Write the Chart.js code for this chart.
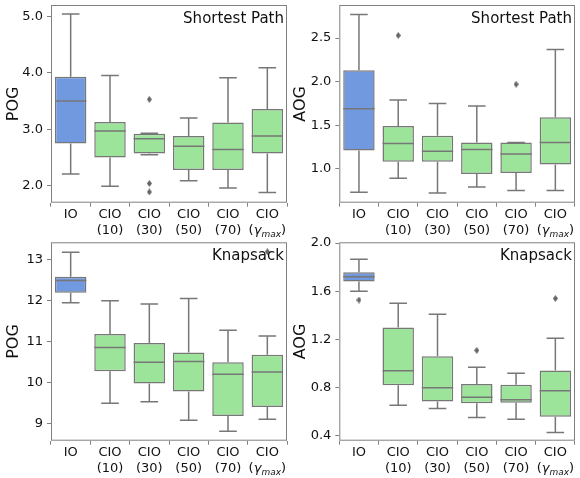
<!DOCTYPE html>
<html>
<head>
<meta charset="utf-8">
<script src="https://cdn.jsdelivr.net/npm/chart.js@4.4.0/dist/chart.umd.min.js"></script>
<style>
  body { margin: 0; background: #fff; }
  #wrap { position: relative; width: 580px; height: 478px; overflow: hidden; }
  canvas { position: absolute; }
</style>
</head>
<body>
<div id="wrap">
  <canvas id="spPog" width="292" height="242" style="left:0;top:0"></canvas>
  <canvas id="spAog" width="290" height="242" style="left:290px;top:0"></canvas>
  <canvas id="kpPog" width="292" height="242" style="left:0;top:236px"></canvas>
  <canvas id="kpAog" width="290" height="242" style="left:290px;top:236px"></canvas>
</div>
<script>
// categories (the last one gets its "(γmax)" line drawn by hand)
const categories = ["IO", ["CIO", "(10)"], ["CIO", "(30)"], ["CIO", "(50)"], ["CIO", "(70)"], ["CIO", ""]];

// five-number summaries per category: [lower whisker, q1, median, q3, upper whisker]
const spPog = [
  [2.21, 2.75, 3.50, 3.93, 5.04],
  [1.99, 2.50, 2.97, 3.13, 3.95],
  [2.55, 2.57, 2.83, 2.92, 2.93],
  [2.09, 2.28, 2.70, 2.88, 3.20],
  [1.96, 2.28, 2.64, 3.12, 3.91],
  [1.88, 2.57, 2.88, 3.36, 4.09],
];
const spPogOut = [[], [], [3.53, 2.04, 1.89], [], [], []];

const spAog = [
  [0.73, 1.21, 1.69, 2.13, 2.77],
  [0.89, 1.08, 1.29, 1.49, 1.79],
  [0.72, 1.08, 1.20, 1.38, 1.75],
  [0.79, 0.94, 1.22, 1.30, 1.72],
  [0.75, 0.95, 1.17, 1.30, 1.30],
  [0.75, 1.05, 1.30, 1.59, 2.37],
];
const spAogOut = [[], [2.53], [], [], [1.97], []];

const kpPog = [
  [11.95, 12.19, 12.49, 12.58, 13.18],
  [9.50, 10.28, 10.86, 11.19, 12.00],
  [9.54, 9.98, 10.50, 10.97, 11.92],
  [9.09, 9.79, 10.52, 10.74, 12.05],
  [8.82, 9.19, 10.21, 10.50, 11.28],
  [9.11, 9.41, 10.26, 10.68, 11.14],
];
const kpPogOut = [[], [], [], [], [], [13.19]];

const kpAog = [
  [1.60, 1.68, 1.72, 1.757, 1.865],
  [0.655, 0.82, 0.94, 1.30, 1.50],
  [0.627, 0.685, 0.80, 1.06, 1.41],
  [0.552, 0.67, 0.72, 0.83, 0.97],
  [0.538, 0.675, 0.70, 0.824, 0.92],
  [0.428, 0.558, 0.774, 0.943, 1.21],
];
const kpAogOut = [[1.527], [], [], [1.109], [], [1.54]];

// y tick values
const spPogTicks = [2.0, 3.0, 4.0, 5.0];
const spAogTicks = [1.0, 1.5, 2.0, 2.5];
const kpPogTicks = [9, 10, 11, 12, 13];
const kpAogTicks = [0.4, 0.8, 1.2, 1.6, 2.0];

const FONT = "'DejaVu Sans', sans-serif";
const LINE = "#777777";
const AXIS = "#808080";
const BLUE = "#7099e0";
const GREEN = "#9ce49a";
const TICK_LEN = 4;
const TICK_PAD = -0.5;
const LABEL_LH = 16.5;

// thin diamond marker like matplotlib's 'd'
const flier = document.createElement("canvas");
flier.width = 5;
flier.height = 7;
(function () {
  const c = flier.getContext("2d");
  c.fillStyle = "#666";
  c.beginPath();
  c.moveTo(2.5, 0); c.lineTo(5, 3.5); c.lineTo(2.5, 7); c.lineTo(0, 3.5);
  c.closePath();
  c.fill();
})();

const boxExtras = {
  id: "boxExtras",
  afterDatasetsDraw(chart, args, opts) {
    const { ctx } = chart;
    const y = chart.scales.y;
    const meta = chart.getDatasetMeta(0);
    ctx.save();
    ctx.strokeStyle = LINE;
    ctx.lineWidth = 1.5;
    opts.stats.forEach((s, i) => {
      const bar = meta.data[i];
      const cx = bar.x;
      const w = bar.width;
      const cap = w * 0.28;
      const px = s.map(v => y.getPixelForValue(v));
      ctx.beginPath();
      // whiskers
      ctx.moveTo(cx, px[3]); ctx.lineTo(cx, px[4]);
      ctx.moveTo(cx, px[1]); ctx.lineTo(cx, px[0]);
      // caps
      ctx.moveTo(cx - cap, px[4]); ctx.lineTo(cx + cap, px[4]);
      ctx.moveTo(cx - cap, px[0]); ctx.lineTo(cx + cap, px[0]);
      // median
      ctx.moveTo(cx - w / 2, px[2]); ctx.lineTo(cx + w / 2, px[2]);
      ctx.stroke();
    });
    ctx.restore();
  },
  afterDraw(chart, args, opts) {
    const { ctx, chartArea } = chart;
    ctx.save();
    // frame
    ctx.strokeStyle = AXIS;
    ctx.lineWidth = 1;
    ctx.strokeRect(chartArea.left + 0.5, chartArea.top + 0.5,
      chartArea.right - chartArea.left - 1, chartArea.bottom - chartArea.top - 1);
    // panel title
    ctx.fillStyle = "#111";
    ctx.font = "15px " + FONT;
    ctx.textAlign = "right";
    ctx.textBaseline = "alphabetic";
    ctx.fillText(opts.title, chartArea.right - 3, chartArea.top + 17.5);
    // "(γmax)" second line of the last label
    const xs = chart.scales.x;
    const cx = xs.getPixelForValue(categories.length - 1);
    const cy = xs.top + TICK_LEN + TICK_PAD + LABEL_LH * 1.5;
    const parts = [
      { t: "(", f: "13px " + FONT, dy: 0 },
      { t: "γ", f: "italic 13px " + FONT, dy: 0 },
      { t: "max", f: "italic 9px " + FONT, dy: 3.5 },
      { t: ")", f: "13px " + FONT, dy: 0 },
    ];
    let total = 0;
    parts.forEach(p => { ctx.font = p.f; p.w = ctx.measureText(p.t).width; total += p.w; });
    let x = cx - total / 2;
    ctx.textAlign = "left";
    ctx.textBaseline = "middle";
    parts.forEach(p => {
      ctx.font = p.f;
      ctx.fillText(p.t, x, cy + p.dy);
      x += p.w;
    });
    ctx.restore();
  },
};

function makePanel(id, stats, outliers, ticks, decimals, yMin, yMax, yLabel, title, fit) {
  const colors = categories.map((c, i) => (i === 0 ? BLUE : GREEN));
  const maxOut = Math.max(...outliers.map(o => o.length));
  const outSets = [];
  for (let k = 0; k < maxOut; k++) {
    outSets.push({
      type: "line",
      data: outliers.map(o => (o[k] === undefined ? null : o[k])),
      showLine: false,
      pointStyle: flier,
      pointRadius: 3,
    });
  }
  new Chart(document.getElementById(id), {
    type: "bar",
    data: {
      labels: categories,
      datasets: [
        {
          data: stats.map(s => [s[1], s[3]]),
          backgroundColor: colors,
          borderColor: LINE,
          borderWidth: 1.5,
          borderSkipped: false,
          barPercentage: 0.8,
          categoryPercentage: 1.0,
        },
        ...outSets,
      ],
    },
    options: {
      responsive: false,
      animation: false,
      devicePixelRatio: 1,
      layout: { padding: { top: fit.top, right: fit.right, left: 0, bottom: 0 } },
      plugins: {
        legend: { display: false },
        tooltip: { enabled: false },
        boxExtras: { stats: stats, title: title },
      },
      scales: {
        x: {
          grid: { drawOnChartArea: false, drawTicks: true, tickLength: TICK_LEN, color: AXIS },
          border: { display: false },
          ticks: {
            color: "#111",
            padding: TICK_PAD,
            maxRotation: 0,
            autoSkip: false,
            font: { family: FONT, size: 13, lineHeight: LABEL_LH / 13 },
          },
          afterFit(scale) {
            scale.height = fit.xh;
            scale.paddingLeft = 0;
            scale.paddingRight = 0;
          },
        },
        y: {
          min: yMin,
          max: yMax,
          grid: { drawOnChartArea: false, drawTicks: true, tickLength: TICK_LEN, color: AXIS },
          border: { display: false },
          afterBuildTicks(scale) {
            scale.ticks = ticks.map(v => ({ value: v }));
          },
          ticks: {
            color: "#111",
            padding: 4,
            font: { family: FONT, size: 13 },
            callback: v => Number(v).toFixed(decimals),
          },
          title: {
            display: true,
            text: yLabel,
            color: "#111",
            font: { family: FONT, size: 16 },
            padding: { top: fit.tp, bottom: 0 },
          },
          afterFit(scale) {
            scale.width = fit.yw;
            scale.paddingTop = 0;
            scale.paddingBottom = 0;
          },
        },
      },
    },
    plugins: [boxExtras],
  });
}

makePanel("spPog", spPog, spPogOut, spPogTicks, 1, 1.70, 5.20, "POG", "Shortest Path",
  { top: 4, right: 1.3, xh: 39.3, yw: 51, tp: 4 });
makePanel("spAog", spAog, spAogOut, spAogTicks, 1, 0.61, 2.88, "AOG", "Shortest Path",
  { top: 4, right: 1.3, xh: 39.3, yw: 49.3, tp: 1.2 });
makePanel("kpPog", kpPog, kpPogOut, kpPogTicks, 0, 8.59, 13.42, "POG", "Knapsack",
  { top: 6.3, right: 1.3, xh: 37.3, yw: 51, tp: 4 });
makePanel("kpAog", kpAog, kpAogOut, kpAogTicks, 1, 0.36, 2.006, "AOG", "Knapsack",
  { top: 6.3, right: 1.3, xh: 37.3, yw: 49.3, tp: 1.2 });
</script>
</body>
</html>
